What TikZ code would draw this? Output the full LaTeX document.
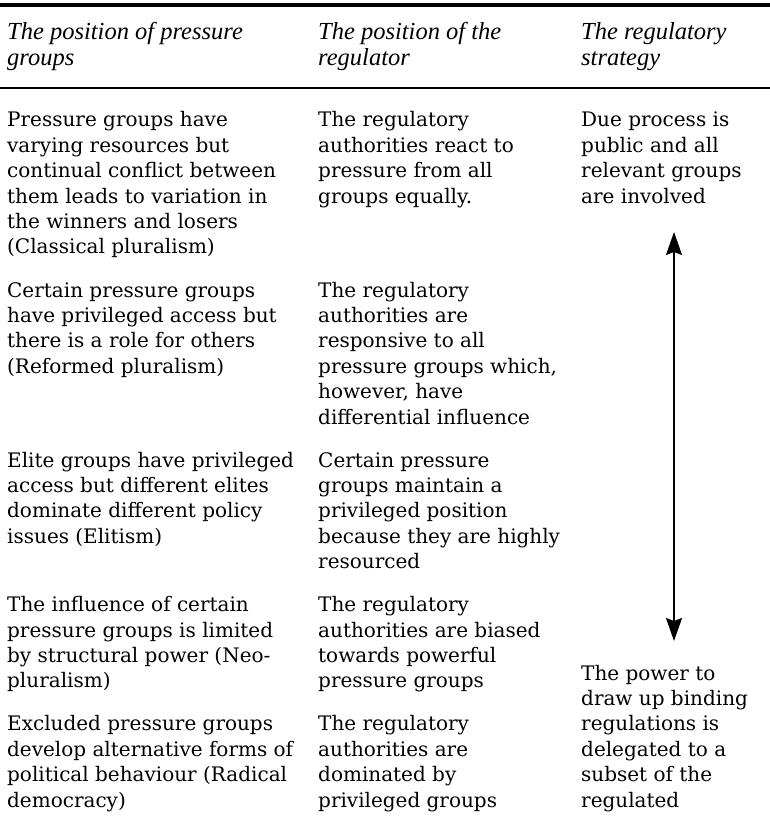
\documentclass[tikz,border=0pt]{standalone}
\usepackage{fontspec}
\setmainfont{DejaVu Serif}
\newfontfamily\headfamily{Liberation Serif}
\usetikzlibrary{arrows.meta}

\newcommand\tblbodyfont{\fontsize{20}{25.4}\selectfont}
\newcommand\tblheadfont{\headfamily\itshape\fontsize{24.5}{26}\selectfont}
\newcommand\celllines[1]{\begin{tabular}[t]{@{}l@{}}#1\end{tabular}}

\tikzset{
  body/.style={anchor=base west, inner sep=0pt, font=\tblbodyfont},
  head/.style={anchor=base west, inner sep=0pt, font=\tblheadfont},
  thickrule/.style={line width=3.5pt},
  thinrule/.style={line width=2pt},
  bidir/.style={line width=1.6pt,
    {Stealth[length=23pt,width=16pt,inset=3pt]}-{Stealth[length=23pt,width=16pt,inset=3pt]}}
}

\begin{document}
\begin{tikzpicture}[x=1pt,y=1pt]
\useasboundingbox (0,0) rectangle (770,-832);

% rules
\coordinate (topL) at (0,-5);   \coordinate (topR) at (770,-5);
\coordinate (midL) at (0,-88);  \coordinate (midR) at (770,-88);
\draw[thickrule] (topL) -- (topR);
\draw[thinrule] (midL) -- (midR);

% column headings
\node[head] (h1) at (7,-39.5)   {\celllines{The position of pressure\\ groups}};
\node[head] (h2) at (318,-39.5) {\celllines{The position of the\\ regulator}};
\node[head] (h3) at (581,-39.5) {\celllines{The regulatory\\ strategy}};

% row 1
\node[body] (r1a) at (7,-127) {\celllines{Pressure groups have\\ varying resources but\\ continual conflict between\\ them leads to variation in\\ the winners and losers\\ (Classical pluralism)}};
\node[body] (r1b) at (318,-127) {\celllines{The regulatory\\ authorities react to\\ pressure from all\\ groups equally.}};
\node[body] (r1c) at (581,-127) {\celllines{Due process is\\ public and all\\ relevant groups\\ are involved}};

% row 2
\node[body] (r2a) at (7,-297) {\celllines{Certain pressure groups\\ have privileged access but\\ there is a role for others\\ (Reformed pluralism)}};
\node[body] (r2b) at (318,-297) {\celllines{The regulatory\\ authorities are\\ responsive to all\\ pressure groups which,\\ however, have\\ differential influence}};

% row 3
\node[body] (r3a) at (7,-467) {\celllines{Elite groups have privileged\\ access but different elites\\ dominate different policy\\ issues (Elitism)}};
\node[body] (r3b) at (318,-467) {\celllines{Certain pressure\\ groups maintain a\\ privileged position\\ because they are highly\\ resourced}};

% row 4
\node[body] (r4a) at (7,-611.6) {\celllines{The influence of certain\\ pressure groups is limited\\ by structural power (Neo-\\ pluralism)}};
\node[body] (r4b) at (318,-611.6) {\celllines{The regulatory\\ authorities are biased\\ towards powerful\\ pressure groups}};
\node[body] (r4c) at (581,-680) {\celllines{The power to\\ draw up binding\\ regulations is\\ delegated to a\\ subset of the\\ regulated}};

% row 5
\node[body] (r5a) at (7,-730.8) {\celllines{Excluded pressure groups\\ develop alternative forms of\\ political behaviour (Radical\\ democracy)}};
\node[body] (r5b) at (318,-730.8) {\celllines{The regulatory\\ authorities are\\ dominated by\\ privileged groups}};

% strategy continuum
\coordinate (arrTop) at (674,-232);
\coordinate (arrBot) at (674,-641);
\draw[bidir] (arrBot) -- (arrTop);
\end{tikzpicture}
\end{document}
